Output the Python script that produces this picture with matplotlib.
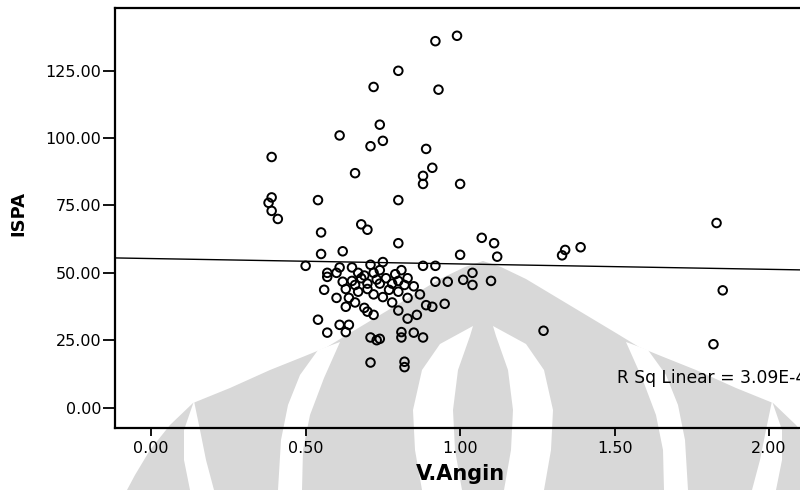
import matplotlib
matplotlib.use('Agg')
import matplotlib.pyplot as plt
from matplotlib.patches import Polygon

# lecturas aproximadas del grafico original
v_angin = [0.99, 0.92, 0.80, 0.72, 0.93, 0.74, 0.61, 0.75, 0.71, 0.89,
           0.39, 0.91, 0.88, 0.66, 0.88, 1.00, 0.39, 0.38, 0.39, 0.41,
           0.54, 0.80, 0.68, 0.70, 0.55, 0.80, 1.07, 1.11, 0.62,
           1.12, 1.10, 1.34, 1.33, 1.39, 1.83, 1.85, 1.82, 1.27,
           1.00, 0.55, 0.50, 0.57, 0.61, 0.57, 0.71, 0.75, 0.74, 0.67,
           0.69, 0.81, 0.88, 0.92, 0.62, 0.65, 0.66, 0.63, 0.70, 0.74,
           0.80, 0.83, 0.82, 0.85, 0.92, 0.96, 1.01, 1.04, 1.04, 0.56,
           0.60, 0.64, 0.67, 0.72, 0.77, 0.80, 0.83, 0.87, 0.63, 0.66,
           0.69, 0.72, 0.70, 0.78, 0.80, 0.89, 0.91, 0.95, 0.83, 0.86,
           0.54, 0.61, 0.64, 0.63, 0.57, 0.71, 0.73, 0.74, 0.81, 0.81,
           0.85, 0.88, 0.71, 0.82, 0.82,
           0.68, 0.72, 0.76, 0.78, 0.70, 0.75, 0.65, 0.60, 0.73, 0.79]
ispa = [138.0, 136.0, 125.0, 119.0, 118.0, 105.0, 101.0, 99.0, 97.0, 96.0,
        93.0, 89.0, 86.0, 87.0, 83.0, 83.0, 78.0, 76.0, 73.0, 70.0,
        77.0, 77.0, 68.0, 66.0, 65.0, 61.0, 63.0, 61.0, 58.0,
        56.0, 47.0, 58.5, 56.5, 59.5, 68.5, 43.5, 23.5, 28.5,
        56.7, 57.0, 52.6, 50.0, 52.0, 48.5, 53.0, 54.0, 51.0, 50.0,
        49.0, 51.0, 52.6, 52.6, 46.7, 47.0, 45.5, 44.0, 46.0, 46.0,
        47.0, 48.0, 45.5, 45.0, 46.7, 46.7, 47.4, 50.0, 45.5, 43.7,
        40.7, 40.7, 43.0, 42.0, 43.7, 43.0, 40.7, 42.0, 37.4, 39.0,
        37.0, 34.4, 35.6, 39.0, 36.0, 38.0, 37.4, 38.5, 33.0, 34.4,
        32.6, 30.7, 30.7, 28.0, 27.8, 26.0, 25.0, 25.5, 28.0, 26.0,
        27.8, 26.0, 16.7, 17.0, 15.0,
        48.0, 50.0, 48.0, 46.0, 44.0, 41.0, 52.0, 50.0, 47.5, 49.5]

# recta de ajuste
fit_intercept = 55.3
fit_slope = -2.0
r_sq_text = 'R Sq Linear = 3.09E-4'

x_ticks = [0.0, 0.5, 1.0, 1.5, 2.0]
y_ticks = [0, 25, 50, 75, 100, 125]

W, H = 800, 490
fig = plt.figure(figsize=(8, 4.9), dpi=100)


def px(puntos):
    return [(x / W, 1 - y / H) for x, y in puntos]


def espejo(puntos, cx=483):
    return [(2 * cx - x, y) for x, y in puntos]


# marca de agua (logo gris de fondo)
gris = '#d8d8d8'
silueta = [(127, 490), (135, 475), (150, 450), (170, 425), (193, 403), (230, 388),
           (270, 370), (305, 356), (327, 347), (350, 333), (380, 315), (410, 297),
           (440, 279), (465, 267), (483, 261)]
silueta = silueta + espejo(silueta[::-1])[1:]
fig.patches.append(Polygon(px(silueta), closed=True, transform=fig.transFigure,
                           facecolor=gris, edgecolor='none', zorder=-5))

franja_ext = [(194, 401), (184, 430), (184, 460), (190, 490), (214, 490), (206, 460), (200, 430)]
franja_med = [(318, 350), (300, 375), (288, 405), (281, 440), (278, 490), (302, 490),
              (303, 450), (310, 415), (324, 378), (340, 342)]
franja_int = [(473, 326), (440, 344), (422, 370), (413, 410), (415, 450), (422, 490),
              (462, 490), (455, 450), (453, 410), (458, 370), (470, 336)]
for forma in [franja_ext, franja_med, franja_int]:
    for f in [forma, espejo(forma)]:
        fig.patches.append(Polygon(px(f), closed=True, transform=fig.transFigure,
                                   facecolor='white', edgecolor='none', zorder=-4))

ax = fig.add_axes([115 / W, 1 - 428 / H, 693 / W, 420.5 / H])
ax.set_facecolor('none')

ax.scatter(v_angin, ispa, s=38, facecolors='none', edgecolors='black', linewidths=1.4, zorder=3)
ax.axline((0, fit_intercept), slope=fit_slope, color='black', linewidth=1.0, zorder=2)

ax.text(1.508, 10.9, r_sq_text, fontsize=12.3, va='center', ha='left', clip_on=False)

ax.set_xlim(-0.117, 2.126)
ax.set_ylim(-7.6, 148.5)
ax.set_xticks(x_ticks)
ax.set_yticks(y_ticks)
ax.set_xticklabels([f'{t:.2f}' for t in x_ticks])
ax.set_yticklabels([f'{t:.2f}' for t in y_ticks])
ax.tick_params(axis='y', direction='out', length=9, width=1.3, pad=1, labelsize=11.5)
ax.tick_params(axis='x', direction='out', length=6, width=1.3, pad=3.5, labelsize=11.5)

for lado in ['left', 'top', 'bottom']:
    ax.spines[lado].set_linewidth(1.6)
ax.spines['right'].set_visible(False)

ax.set_xlabel('V.Angin', fontsize=15, fontweight='bold')
ax.set_ylabel('ISPA', fontsize=13, fontweight='bold')
ax.xaxis.set_label_coords(0.499, -0.086)
ax.yaxis.set_label_coords(-0.127, 0.51)

plt.savefig('out.png', dpi=100)
plt.close()
